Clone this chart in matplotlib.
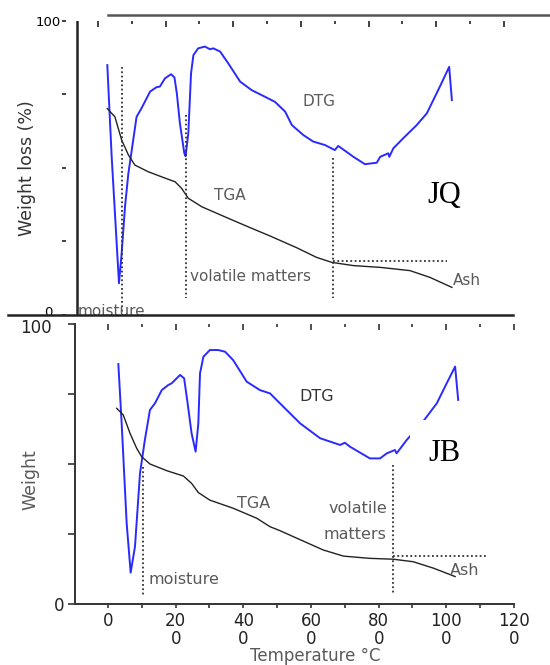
"""TGA / DTG curves for the JQ and JB samples, stacked panels."""

import matplotlib

matplotlib.use("Agg")
import matplotlib.pyplot as plt
from matplotlib.transforms import ScaledTranslation

# ---- JQ (top panel) ------------------------------------------------------
jq_dtg_temp = [27.5, 40.4, 62, 70, 79.8, 89.6, 114, 129, 154, 173, 183, 198,
               216, 226, 233, 242, 255, 259, 267, 275, 282, 296, 316, 331,
               341, 361, 385, 420, 454, 494, 523, 553, 573, 607, 636, 671,
               700, 710, 720, 755, 789, 824, 834, 858, 861, 873, 902, 942,
               972, 1011, 1038, 1046]
jq_dtg = [85.0, 53.9, 10.8, 21.1, 36.8, 48.0, 67.4, 70.4, 76.0, 77.5, 77.7,
          80.5, 81.9, 80.8, 75.4, 65.3, 55.1, 54.0, 61.9, 82.2, 88.4, 90.7,
          91.3, 90.4, 90.7, 89.6, 85.6, 79.4, 76.5, 74.2, 72.5, 69.2, 64.6,
          61.2, 59.0, 57.8, 56.1, 57.5, 56.7, 53.8, 51.3, 51.8, 53.8, 55.0,
          53.8, 56.7, 60.1, 64.6, 68.6, 77.8, 84.4, 73.1]
jq_tga_temp = [27.5, 50, 70, 90, 109, 149, 188, 228, 247, 267, 307, 385, 454,
               508, 587, 646, 691, 755, 834, 922, 981, 1046]
jq_tga = [70.2, 67.4, 59.5, 54.4, 51.0, 48.7, 47.0, 45.3, 43.1, 39.7, 36.8,
          32.9, 29.5, 26.9, 22.9, 19.6, 17.9, 16.8, 16.2, 15.1, 12.8, 9.4]
jq_moisture_t, jq_moisture_y = 70, 84.5
jq_volatile_t, jq_volatile_y = 259, 68
jq_ash_t, jq_ash_y, jq_ash_level, jq_ash_end = 694, 53.3, 18.5, 1031

# ---- JB (bottom panel) ---------------------------------------------------
jb_dtg_temp = [30.6, 40.4, 55.2, 67.0, 79.8, 94.6, 109, 124, 139, 159, 178,
               188, 213, 225, 234, 247, 259, 267, 272, 282, 301, 326, 346,
               370, 410, 449, 479, 518, 568, 627, 686, 700, 715, 774, 804,
               824, 848, 853, 883, 927, 972, 1001, 1026, 1035]
jb_dtg = [85.7, 64.5, 28.8, 11.2, 20.5, 46.7, 58.6, 69.3, 71.7, 76.4, 78.2,
          78.8, 81.8, 80.6, 72.9, 61.0, 54.4, 64.5, 82.4, 88.3, 90.7, 90.7,
          90.1, 87.1, 79.4, 76.4, 75.2, 70.5, 64.5, 59.2, 56.8, 57.6, 56.2,
          52.0, 52.0, 53.8, 55.0, 53.8, 58.6, 64.5, 71.7, 78.8, 84.8, 72.9]
jb_tga_temp = [25.7, 45.2, 65.0, 84.8, 99.6, 124, 174, 223, 247, 267, 301,
               370, 440, 479, 508, 558, 636, 696, 774, 843, 902, 962, 1026]
jb_tga = [69.9, 67.5, 61.0, 55.6, 52.6, 50.0, 47.6, 45.7, 43.1, 39.8, 37.1,
          34.2, 30.6, 27.6, 26.2, 23.5, 19.3, 17.1, 16.3, 16.0, 15.1, 12.8, 9.8]
jb_moisture_t, jb_moisture_y = 104, 49
jb_ash_t, jb_ash_y, jb_ash_level, jb_ash_end = 841.5, 49.6, 17.1, 1123

# ---- axis ticks ----------------------------------------------------------
x_major = [0, 200, 400, 600, 800, 1000, 1200]
x_minor = [100, 300, 500, 700, 900, 1100]
x_tick_labels = ["0", "20\n0", "40\n0", "60\n0", "80\n0", "100\n0", "120\n0"]
y_ticks = [0, 25, 50, 75, 100]
y_tick_labels = ["0", "", "", "", "100"]

W, H = 550, 665
DTG_COLOR = "#2a2aff"
TGA_COLOR = "#222222"
GUIDE = dict(color="#333333", lw=1.3, linestyle=(0, (1, 1.4)))
LABEL_GRAY = "#5a5a5a"


def px_axes(fig, left, top, right, bottom):
    """Add axes from pixel edges (origin top-left)."""
    return fig.add_axes([left / W, 1 - bottom / H, (right - left) / W, (bottom - top) / H])


def nudge(text, dx, dy):
    """Shift a text artist by (dx, dy) pixels."""
    text.set_transform(text.get_transform() + ScaledTranslation(dx / 100, dy / 100, fig.dpi_scale_trans))


def draw_curves(ax, dtg_t, dtg, tga_t, tga):
    ax.plot(dtg_t, dtg, color=DTG_COLOR, lw=1.4, solid_joinstyle="round")
    ax.plot(tga_t, tga, color=TGA_COLOR, lw=1.0, solid_joinstyle="round")


fig = plt.figure(figsize=(5.5, 6.65), dpi=100)

# ---- top panel (JQ) ------------------------------------------------------
ax = px_axes(fig, 62, 21, 550, 315)
ax.set_xlim(-106.4, 1336)
ax.set_ylim(0, 100)
for side in ["left", "right", "top", "bottom"]:
    ax.spines[side].set_visible(False)
ax.xaxis.set_ticks_position("top")
ax.set_xticks(x_major)
ax.set_xticks(x_minor, minor=True)
ax.tick_params(axis="x", which="major", direction="in", length=4, width=1.3,
               color="#333333", labeltop=False, labelbottom=False)
ax.tick_params(axis="x", which="minor", direction="in", length=2, width=1.3,
               color="#333333")
ax.set_yticks(y_ticks, y_tick_labels)
ax.tick_params(axis="y", direction="in", length=3, width=1.3, pad=1,
               labelsize=9.5, color="#333333")
nudge(ax.get_yticklabels()[0], -8, 4)

ax.axvline(-62, color="#222222", lw=1.8)
ax.axhline(0, xmin=-0.11, xmax=0.924, color="#222222", lw=1.8, clip_on=False, zorder=4)
ax.axhline(102, xmin=0.094, xmax=1, color="#555555", lw=1.8, clip_on=False)

draw_curves(ax, jq_dtg_temp, jq_dtg, jq_tga_temp, jq_tga)
ax.plot([jq_moisture_t, jq_moisture_t], [jq_moisture_y, 0.5], **GUIDE)
ax.plot([jq_volatile_t, jq_volatile_t], [jq_volatile_y, 5.8], **GUIDE)
ax.plot([jq_ash_t, jq_ash_t], [jq_ash_y, 5.8], **GUIDE)
ax.plot([jq_ash_t, jq_ash_end], [jq_ash_level, jq_ash_level], **GUIDE)

ax.text(654, 72.6, "DTG", color=LABEL_GRAY, fontsize=11, ha="center", va="center")
ax.text(390, 40.8, "TGA", color=LABEL_GRAY, fontsize=11, ha="center", va="center")
ax.text(272, 13.0, "volatile matters", color=LABEL_GRAY, fontsize=11, va="center")
ax.text(-59, -0.5, "moisture", color=LABEL_GRAY, fontsize=11, va="baseline")
ax.text(1049, 11.9, "Ash", color=LABEL_GRAY, fontsize=11, va="center")
ax.text(1024, 40.8, "JQ", family="Liberation Serif", fontsize=22, ha="center", va="center")

# ---- bottom panel (JB) ---------------------------------------------------
bx = px_axes(fig, 75, 324, 514, 604)
bx.set_xlim(-97.5, 1200)
bx.set_ylim(0, 100)
bx.spines["top"].set_visible(False)
bx.spines["right"].set_visible(False)
for side in ["left", "bottom"]:
    bx.spines[side].set_color("#333333")
    bx.spines[side].set_linewidth(1.4)
bx.set_xticks(x_major, x_tick_labels)
bx.set_xticks(x_minor, minor=True)
bx.tick_params(axis="x", which="both", direction="out", length=3, width=1.2,
               color="#333333", labelsize=12, pad=3, labelcolor="#222222")
for lab in bx.get_xticklabels():
    lab.set_linespacing(1.0)
bx.set_yticks(y_ticks, y_tick_labels)
bx.tick_params(axis="y", direction="out", length=5, width=1.2, color="#333333",
               labelsize=12, pad=3, labelcolor="#222222")
nudge(bx.get_yticklabels()[-1], -12, -2)

top_ticks = bx.secondary_xaxis("top")
top_ticks.spines["top"].set_visible(False)
top_ticks.set_xticks(x_major)
top_ticks.set_xticks(x_minor, minor=True)
top_ticks.tick_params(which="major", direction="in", length=4, width=1.2,
                      color="#333333", labeltop=False)
top_ticks.tick_params(which="minor", direction="in", length=2, width=1.2,
                      color="#333333")

draw_curves(bx, jb_dtg_temp, jb_dtg, jb_tga_temp, jb_tga)
bx.plot([jb_moisture_t, jb_moisture_t], [jb_moisture_y, 2.6], **GUIDE)
bx.plot([jb_ash_t, jb_ash_t], [jb_ash_y, 3.9], **GUIDE)
bx.plot([jb_ash_t, jb_ash_end], [jb_ash_level, jb_ash_level], **GUIDE)

bx.text(618, 74.0, "DTG", color="#333333", fontsize=11.5, ha="center", va="center")
bx.text(429, 36.0, "TGA", color=LABEL_GRAY, fontsize=11.5, ha="center", va="center")
bx.text(119, 8.6, "moisture", color=LABEL_GRAY, fontsize=11.5, va="center")
bx.text(824, 29.4, "volatile\nmatters", color=LABEL_GRAY, fontsize=11.5,
        ha="right", va="center", linespacing=1.9)
bx.text(1011, 12.1, "Ash", color=LABEL_GRAY, fontsize=11.5, va="center")
bx.text(993, 53.9, "JB", family="Liberation Serif", fontsize=22, ha="center",
        va="center", bbox=dict(boxstyle="square,pad=0.6", fc="white", ec="none"))

# ---- axis titles ---------------------------------------------------------
fig.text(27 / W, 1 - 168 / H, "Weight loss (%)", rotation=90, ha="center",
         va="center", fontsize=12.5, color="#333333")
fig.text(30 / W, 1 - 480 / H, "Weight", rotation=90, ha="center", va="center",
         fontsize=12.5, color=LABEL_GRAY)
fig.text(315 / W, 1 - 656 / H, "Temperature °C", ha="center", va="center",
         fontsize=12, color=LABEL_GRAY)

fig.savefig("out.png", dpi=100)
